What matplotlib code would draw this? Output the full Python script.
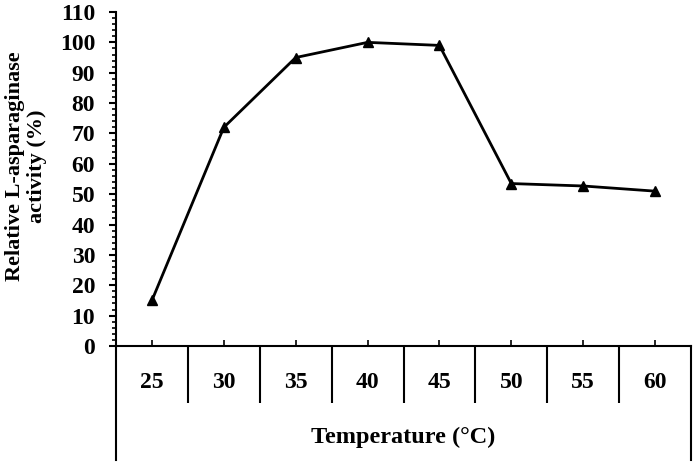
import matplotlib.pyplot as plt
import numpy as np

temps = ['25', '30', '35', '40', '45', '50', '55', '60']
activity = [15, 72, 95, 100, 99, 53.5, 52.7, 51]

plt.rcParams['font.family'] = 'Liberation Serif'
plt.rcParams['font.weight'] = 'bold'

W, H = 697, 466
fig = plt.figure(figsize=(W / 100, H / 100), dpi=100)
x0, x1, y0, y1 = 116, 691, 346, 12
ax = fig.add_axes([x0 / W, (H - y0) / H, (x1 - x0) / W, (y0 - y1) / H])

x = np.arange(1, len(temps) + 1)
ax.plot(x, activity, color='black', lw=2, marker='^', ms=7)

ax.set_xlim(0.5, len(temps) + 0.5)
ax.set_ylim(0, 110)
ax.set_yticks(np.arange(0, 111, 10))
ax.set_yticks(np.arange(0, 111, 2), minor=True)
ax.set_xticks(x)
ax.set_xticklabels(temps)
ax.set_xticks(np.arange(1.5, len(temps), 1), minor=True)

ax.spines['top'].set_visible(False)
ax.spines['right'].set_visible(False)
for s in ['left', 'bottom']:
    ax.spines[s].set_linewidth(1.5)

ax.tick_params(axis='y', which='major', direction='out', length=5, width=1.5,
               labelsize=17, pad=10)
ax.tick_params(axis='y', which='minor', direction='out', length=3, width=1.2)
ax.tick_params(axis='x', which='major', direction='in', length=4, width=1.2,
               labelsize=17, pad=19)
ax.tick_params(axis='x', which='minor', direction='out', length=41, width=1.5)

# outer bracket lines of the category axis
ext = (460 - y0) / (y0 - y1)
tr = ax.get_xaxis_transform()
for xe in [0.5, len(temps) + 0.5]:
    ax.plot([xe, xe], [0, -ext], color='black', lw=1.5, transform=tr, clip_on=False)

ax.set_ylabel('Relative L-asparaginase\nactivity (%)', fontsize=16, fontweight='bold',
              linespacing=1.15)
ax.yaxis.set_label_coords((26 - x0) / (x1 - x0), (y0 - 166) / (y0 - y1))
ax.yaxis.label.set_va('center')
ax.set_xlabel('Temperature (°C)', fontsize=17.5, fontweight='bold')
ax.xaxis.set_label_coords(0.5, -(437 - y0) / (y0 - y1))
ax.xaxis.label.set_va('center')

fig.savefig('out.png', dpi=100)
